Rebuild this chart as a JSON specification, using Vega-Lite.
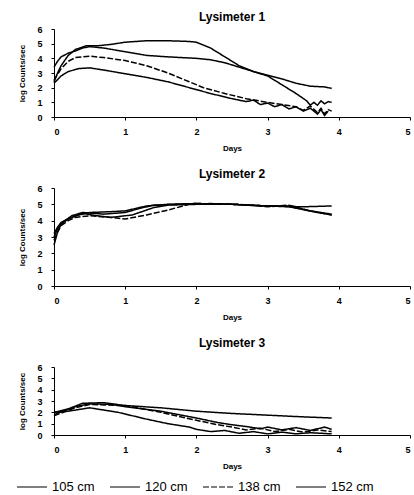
{
  "$schema": "https://vega.github.io/schema/vega-lite/v6.json",
  "padding": {"left": 16, "top": 11, "right": 2, "bottom": 2},
  "background": "white",
  "config": {
    "font": "Liberation Sans",
    "view": {"stroke": null},
    "axis": {
      "grid": false, "domainColor": "black", "tickColor": "black", "labelColor": "black", "titleColor": "black",
      "labelFont": "Liberation Sans", "labelFontWeight": "bold", "labelFontSize": 9,
      "titleFont": "Liberation Sans", "titleFontSize": 8, "titleFontWeight": "bold", "tickSize": 3, "domainWidth": 1
    },
    "axisY": {"labelPadding": 9, "titlePadding": 10},
    "axisX": {"labelPadding": 7, "titlePadding": 8},
    "title": {"font": "Liberation Sans", "fontSize": 12, "fontWeight": "bold", "color": "black"},
    "legend": {"direction": "horizontal", "title": null, "labelFontSize": 13, "labelColor": "black", "labelFont": "Liberation Sans", "symbolType": "stroke", "symbolSize": 900, "symbolStrokeColor": "black", "symbolStrokeWidth": 1.2, "columnPadding": 12, "padding": 0}
  },
  "datasets": {
    "l1": [
      {"d":"105 cm","x":0,"y":2.4},{"d":"105 cm","x":0.05,"y":3.0},{"d":"105 cm","x":0.1,"y":3.5},{"d":"105 cm","x":0.2,"y":4.2},{"d":"105 cm","x":0.3,"y":4.6},{"d":"105 cm","x":0.45,"y":4.85},{"d":"105 cm","x":0.6,"y":4.85},{"d":"105 cm","x":0.8,"y":4.95},{"d":"105 cm","x":1.0,"y":5.1},{"d":"105 cm","x":1.3,"y":5.2},{"d":"105 cm","x":1.6,"y":5.2},{"d":"105 cm","x":1.9,"y":5.15},{"d":"105 cm","x":2.0,"y":5.1},{"d":"105 cm","x":2.2,"y":4.7},{"d":"105 cm","x":2.4,"y":4.1},{"d":"105 cm","x":2.6,"y":3.5},{"d":"105 cm","x":2.8,"y":3.1},{"d":"105 cm","x":3.0,"y":2.8},{"d":"105 cm","x":3.2,"y":2.2},{"d":"105 cm","x":3.4,"y":1.6},{"d":"105 cm","x":3.55,"y":1.1},{"d":"105 cm","x":3.6,"y":0.8},{"d":"105 cm","x":3.65,"y":1.0},{"d":"105 cm","x":3.7,"y":0.8},{"d":"105 cm","x":3.75,"y":1.1},{"d":"105 cm","x":3.8,"y":0.9},{"d":"105 cm","x":3.85,"y":1.05},{"d":"105 cm","x":3.9,"y":1.0},
      {"d":"120 cm","x":0,"y":3.4},{"d":"120 cm","x":0.05,"y":3.8},{"d":"120 cm","x":0.1,"y":4.1},{"d":"120 cm","x":0.2,"y":4.35},{"d":"120 cm","x":0.3,"y":4.5},{"d":"120 cm","x":0.4,"y":4.7},{"d":"120 cm","x":0.5,"y":4.8},{"d":"120 cm","x":0.7,"y":4.7},{"d":"120 cm","x":1.0,"y":4.45},{"d":"120 cm","x":1.3,"y":4.2},{"d":"120 cm","x":1.6,"y":4.1},{"d":"120 cm","x":2.0,"y":4.0},{"d":"120 cm","x":2.2,"y":3.9},{"d":"120 cm","x":2.4,"y":3.7},{"d":"120 cm","x":2.6,"y":3.4},{"d":"120 cm","x":2.8,"y":3.1},{"d":"120 cm","x":3.0,"y":2.85},{"d":"120 cm","x":3.2,"y":2.6},{"d":"120 cm","x":3.4,"y":2.3},{"d":"120 cm","x":3.6,"y":2.1},{"d":"120 cm","x":3.8,"y":2.05},{"d":"120 cm","x":3.9,"y":1.95},
      {"d":"138 cm","x":0,"y":2.5},{"d":"138 cm","x":0.1,"y":3.3},{"d":"138 cm","x":0.2,"y":3.8},{"d":"138 cm","x":0.3,"y":4.05},{"d":"138 cm","x":0.5,"y":4.15},{"d":"138 cm","x":0.7,"y":4.05},{"d":"138 cm","x":1.0,"y":3.85},{"d":"138 cm","x":1.3,"y":3.5},{"d":"138 cm","x":1.6,"y":3.0},{"d":"138 cm","x":1.9,"y":2.4},{"d":"138 cm","x":2.1,"y":2.0},{"d":"138 cm","x":2.4,"y":1.6},{"d":"138 cm","x":2.7,"y":1.25},{"d":"138 cm","x":3.0,"y":1.0},{"d":"138 cm","x":3.2,"y":0.85},{"d":"138 cm","x":3.4,"y":0.7},{"d":"138 cm","x":3.5,"y":0.45},{"d":"138 cm","x":3.6,"y":0.75},{"d":"138 cm","x":3.7,"y":0.3},{"d":"138 cm","x":3.75,"y":0.6},{"d":"138 cm","x":3.8,"y":0.2},{"d":"138 cm","x":3.85,"y":0.5},{"d":"138 cm","x":3.9,"y":0.4},
      {"d":"152 cm","x":0,"y":2.3},{"d":"152 cm","x":0.1,"y":2.8},{"d":"152 cm","x":0.2,"y":3.1},{"d":"152 cm","x":0.35,"y":3.3},{"d":"152 cm","x":0.5,"y":3.35},{"d":"152 cm","x":0.7,"y":3.2},{"d":"152 cm","x":1.0,"y":2.95},{"d":"152 cm","x":1.3,"y":2.7},{"d":"152 cm","x":1.6,"y":2.4},{"d":"152 cm","x":1.9,"y":2.0},{"d":"152 cm","x":2.2,"y":1.6},{"d":"152 cm","x":2.5,"y":1.25},{"d":"152 cm","x":2.7,"y":1.05},{"d":"152 cm","x":2.8,"y":1.15},{"d":"152 cm","x":2.9,"y":0.85},{"d":"152 cm","x":3.0,"y":0.95},{"d":"152 cm","x":3.1,"y":0.7},{"d":"152 cm","x":3.2,"y":0.85},{"d":"152 cm","x":3.3,"y":0.55},{"d":"152 cm","x":3.4,"y":0.7},{"d":"152 cm","x":3.5,"y":0.4},{"d":"152 cm","x":3.6,"y":0.6},{"d":"152 cm","x":3.7,"y":0.2},{"d":"152 cm","x":3.75,"y":0.5},{"d":"152 cm","x":3.8,"y":0.1},{"d":"152 cm","x":3.85,"y":0.4}
    ],
    "l2": [
      {"d":"105 cm","x":0,"y":2.5},{"d":"105 cm","x":0.05,"y":3.3},{"d":"105 cm","x":0.1,"y":3.8},{"d":"105 cm","x":0.2,"y":4.1},{"d":"105 cm","x":0.3,"y":4.3},{"d":"105 cm","x":0.5,"y":4.5},{"d":"105 cm","x":0.8,"y":4.55},{"d":"105 cm","x":1.0,"y":4.6},{"d":"105 cm","x":1.3,"y":4.9},{"d":"105 cm","x":1.6,"y":5.0},{"d":"105 cm","x":2.0,"y":5.05},{"d":"105 cm","x":2.5,"y":5.0},{"d":"105 cm","x":3.0,"y":4.9},{"d":"105 cm","x":3.5,"y":4.85},{"d":"105 cm","x":3.9,"y":4.9},
      {"d":"120 cm","x":0,"y":3.0},{"d":"120 cm","x":0.05,"y":3.5},{"d":"120 cm","x":0.15,"y":4.0},{"d":"120 cm","x":0.25,"y":4.3},{"d":"120 cm","x":0.4,"y":4.5},{"d":"120 cm","x":0.7,"y":4.4},{"d":"120 cm","x":1.0,"y":4.5},{"d":"120 cm","x":1.2,"y":4.75},{"d":"120 cm","x":1.4,"y":4.95},{"d":"120 cm","x":1.7,"y":5.0},{"d":"120 cm","x":2.0,"y":5.05},{"d":"120 cm","x":2.5,"y":5.0},{"d":"120 cm","x":3.0,"y":4.9},{"d":"120 cm","x":3.3,"y":4.9},{"d":"120 cm","x":3.6,"y":4.6},{"d":"120 cm","x":3.9,"y":4.4},
      {"d":"138 cm","x":0,"y":2.8},{"d":"138 cm","x":0.05,"y":3.3},{"d":"138 cm","x":0.1,"y":3.7},{"d":"138 cm","x":0.2,"y":4.0},{"d":"138 cm","x":0.3,"y":4.2},{"d":"138 cm","x":0.5,"y":4.3},{"d":"138 cm","x":0.8,"y":4.2},{"d":"138 cm","x":1.0,"y":4.1},{"d":"138 cm","x":1.3,"y":4.35},{"d":"138 cm","x":1.6,"y":4.65},{"d":"138 cm","x":1.9,"y":5.0},{"d":"138 cm","x":2.2,"y":5.05},{"d":"138 cm","x":2.6,"y":5.0},{"d":"138 cm","x":3.0,"y":4.85},{"d":"138 cm","x":3.3,"y":4.95},{"d":"138 cm","x":3.6,"y":4.6},{"d":"138 cm","x":3.9,"y":4.35},
      {"d":"152 cm","x":0,"y":3.2},{"d":"152 cm","x":0.05,"y":3.6},{"d":"152 cm","x":0.1,"y":3.9},{"d":"152 cm","x":0.2,"y":4.1},{"d":"152 cm","x":0.4,"y":4.45},{"d":"152 cm","x":0.6,"y":4.3},{"d":"152 cm","x":0.8,"y":4.2},{"d":"152 cm","x":1.1,"y":4.35},{"d":"152 cm","x":1.4,"y":4.8},{"d":"152 cm","x":1.6,"y":4.95},{"d":"152 cm","x":2.0,"y":5.0},{"d":"152 cm","x":2.5,"y":5.0},{"d":"152 cm","x":3.0,"y":4.9},{"d":"152 cm","x":3.3,"y":4.85},{"d":"152 cm","x":3.7,"y":4.5},{"d":"152 cm","x":3.9,"y":4.35}
    ],
    "l3": [
      {"d":"105 cm","x":0,"y":2.0},{"d":"105 cm","x":0.2,"y":2.3},{"d":"105 cm","x":0.4,"y":2.8},{"d":"105 cm","x":0.7,"y":2.85},{"d":"105 cm","x":1.0,"y":2.6},{"d":"105 cm","x":1.5,"y":2.4},{"d":"105 cm","x":2.0,"y":2.1},{"d":"105 cm","x":2.5,"y":1.9},{"d":"105 cm","x":3.0,"y":1.75},{"d":"105 cm","x":3.5,"y":1.6},{"d":"105 cm","x":3.9,"y":1.5},
      {"d":"120 cm","x":0,"y":1.8},{"d":"120 cm","x":0.3,"y":2.5},{"d":"120 cm","x":0.5,"y":2.75},{"d":"120 cm","x":0.8,"y":2.7},{"d":"120 cm","x":1.0,"y":2.5},{"d":"120 cm","x":1.5,"y":2.1},{"d":"120 cm","x":2.0,"y":1.5},{"d":"120 cm","x":2.3,"y":1.1},{"d":"120 cm","x":2.5,"y":0.9},{"d":"120 cm","x":2.7,"y":0.75},{"d":"120 cm","x":2.9,"y":0.55},{"d":"120 cm","x":3.0,"y":0.7},{"d":"120 cm","x":3.2,"y":0.45},{"d":"120 cm","x":3.4,"y":0.65},{"d":"120 cm","x":3.6,"y":0.4},{"d":"120 cm","x":3.8,"y":0.7},{"d":"120 cm","x":3.9,"y":0.5},
      {"d":"138 cm","x":0,"y":1.7},{"d":"138 cm","x":0.3,"y":2.4},{"d":"138 cm","x":0.5,"y":2.7},{"d":"138 cm","x":1.0,"y":2.6},{"d":"138 cm","x":1.5,"y":2.0},{"d":"138 cm","x":2.0,"y":1.3},{"d":"138 cm","x":2.3,"y":0.9},{"d":"138 cm","x":2.5,"y":0.7},{"d":"138 cm","x":2.7,"y":0.45},{"d":"138 cm","x":2.9,"y":0.6},{"d":"138 cm","x":3.1,"y":0.3},{"d":"138 cm","x":3.3,"y":0.5},{"d":"138 cm","x":3.5,"y":0.25},{"d":"138 cm","x":3.7,"y":0.45},{"d":"138 cm","x":3.9,"y":0.3},
      {"d":"152 cm","x":0,"y":2.0},{"d":"152 cm","x":0.2,"y":2.1},{"d":"152 cm","x":0.5,"y":2.4},{"d":"152 cm","x":0.9,"y":2.0},{"d":"152 cm","x":1.3,"y":1.4},{"d":"152 cm","x":1.6,"y":1.0},{"d":"152 cm","x":1.9,"y":0.7},{"d":"152 cm","x":2.0,"y":0.5},{"d":"152 cm","x":2.2,"y":0.3},{"d":"152 cm","x":2.4,"y":0.4},{"d":"152 cm","x":2.6,"y":0.15},{"d":"152 cm","x":2.8,"y":0.3},{"d":"152 cm","x":3.0,"y":0.1},{"d":"152 cm","x":3.2,"y":0.25},{"d":"152 cm","x":3.4,"y":0.1},{"d":"152 cm","x":3.6,"y":0.2},{"d":"152 cm","x":3.9,"y":0.1}
    ]
  },
  "spacing": 16,
  "resolve": {"scale": {"strokeDash": "independent"}, "legend": {"strokeDash": "independent"}},
  "vconcat": [
    {
      "title": {"text": "Lysimeter 1", "offset": 1},
      "width": 356, "height": 88,
      "data": {"name": "l1"},
      "mark": {"type": "line", "color": "black", "strokeWidth": 1.5},
      "encoding": {
        "x": {"field": "x", "type": "quantitative", "scale": {"domain": [0, 5]}, "axis": {"title": "Days", "values": [0,1,2,3,4,5]}},
        "y": {"field": "y", "type": "quantitative", "scale": {"domain": [0, 6]}, "axis": {"title": "log Counts/sec", "values": [0,1,2,3,4,5,6]}},
        "strokeDash": {"field": "d", "type": "nominal", "legend": null, "scale": {"domain": ["105 cm","120 cm","138 cm","152 cm"], "range": [[1,0],[1,0],[6,2],[1,0]]}}
      }
    },
    {
      "title": {"text": "Lysimeter 2", "offset": 3},
      "width": 356, "height": 98,
      "data": {"name": "l2"},
      "mark": {"type": "line", "color": "black", "strokeWidth": 1.5},
      "encoding": {
        "x": {"field": "x", "type": "quantitative", "scale": {"domain": [0, 5]}, "axis": {"title": "Days", "values": [0,1,2,3,4,5]}},
        "y": {"field": "y", "type": "quantitative", "scale": {"domain": [0, 6]}, "axis": {"title": "log Counts/sec", "values": [0,1,2,3,4,5,6]}},
        "strokeDash": {"field": "d", "type": "nominal", "legend": null, "scale": {"domain": ["105 cm","120 cm","138 cm","152 cm"], "range": [[1,0],[1,0],[6,2],[1,0]]}}
      }
    },
    {
      "title": {"text": "Lysimeter 3", "offset": 13},
      "width": 356, "height": 68,
      "data": {"name": "l3"},
      "mark": {"type": "line", "color": "black", "strokeWidth": 1.5},
      "encoding": {
        "x": {"field": "x", "type": "quantitative", "scale": {"domain": [0, 5]}, "axis": {"title": "Days", "values": [0,1,2,3,4,5]}},
        "y": {"field": "y", "type": "quantitative", "scale": {"domain": [0, 6]}, "axis": {"title": "log Counts/sec", "values": [0,1,2,3,4,5,6]}},
        "strokeDash": {"field": "d", "type": "nominal", "scale": {"domain": ["105 cm","120 cm","138 cm","152 cm"], "range": [[1,0],[1,0],[6,2],[1,0]]}, "legend": {"orient": "none", "legendX": -38, "legendY": 104}}
      }
    }
  ]
}
